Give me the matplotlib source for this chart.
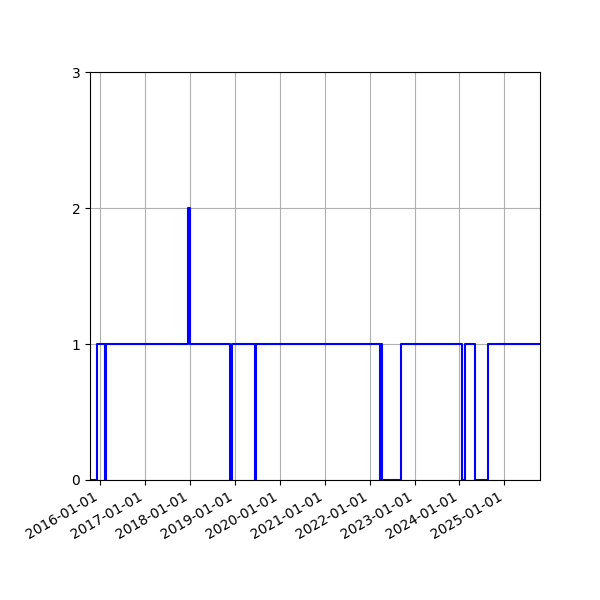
import matplotlib
matplotlib.use("Agg")
import matplotlib.pyplot as plt
import matplotlib.dates as mdates
import pandas as pd

# step changes: date the count changes, and the new count
change_dates = ["2015-10-09", "2015-12-09", "2016-02-04", "2016-02-14",
                "2017-12-14", "2017-12-30", "2018-11-21", "2018-12-09",
                "2019-06-13", "2019-06-17", "2022-03-22", "2022-04-03",
                "2022-04-12", "2022-09-16", "2024-01-23", "2024-02-12",
                "2024-05-08", "2024-08-22", "2025-10-17"]
counts = [0, 1, 0, 1, 2, 1, 0, 1, 0, 1, 0, 1, 0, 1, 0, 1, 0, 1, 1]
y_ticks = [0, 1, 2, 3]

x = pd.to_datetime(change_dates)

fig, ax = plt.subplots(figsize=(6, 6), dpi=100)
ax.plot(x, counts, drawstyle="steps-post", color="b")
ax.set_xlim(x[0], x[-1])
ax.set_ylim(0, 3)
ax.set_yticks(y_ticks)
ax.xaxis.set_major_locator(mdates.YearLocator())
ax.xaxis.set_major_formatter(mdates.DateFormatter("%Y-%m-%d"))
ax.grid(True)
fig.autofmt_xdate()
fig.subplots_adjust(left=0.15, right=0.9, top=0.88, bottom=0.2)
fig.savefig("out.png")
